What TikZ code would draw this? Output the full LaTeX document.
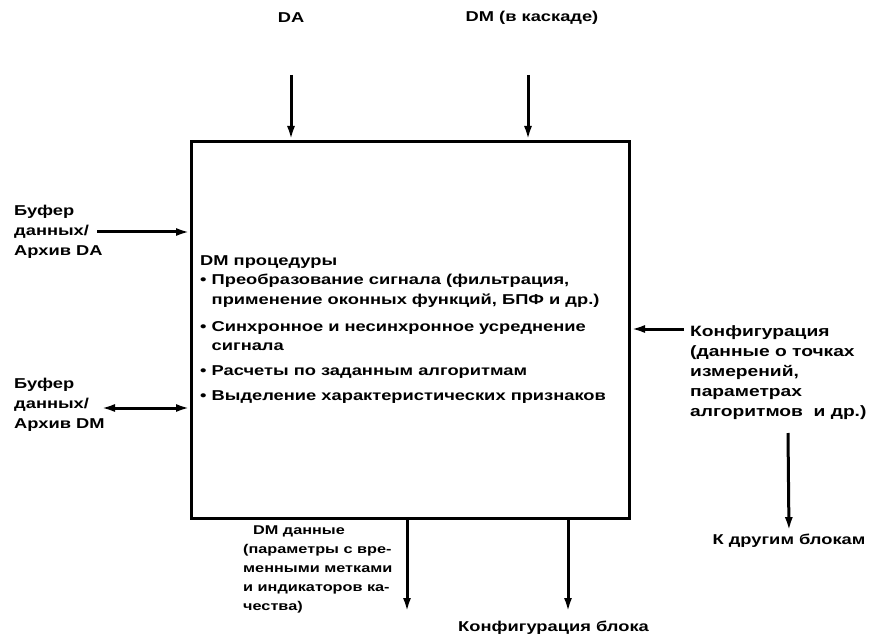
\documentclass[tikz,border=0pt]{standalone}
\usepackage{fontspec}
\setmainfont{Liberation Sans}[FakeStretch=1.28]
\usetikzlibrary{arrows.meta}
\begin{document}
\begin{tikzpicture}[x=1pt,y=-1pt,
  lbl/.style={font=\fontsize{14.3}{20.2}\selectfont\bfseries, inner sep=0pt, align=left},
  arr/.style={line width=3pt, -{Latex[length=14pt,width=8pt]}},
  darr/.style={line width=3pt, {Latex[length=14pt,width=8pt]}-{Latex[length=14pt,width=8pt]}}]
\useasboundingbox (0,0) rectangle (869,636);
% main box
\node[draw, line width=3pt, inner sep=0pt, minimum width=438pt, minimum height=377pt, anchor=north west] (box) at (190,140) {};
% text inside
\node[lbl, anchor=north west, font=\fontsize{14.3}{19.5}\selectfont\bfseries] (proc) at (200,255) {DM процедуры\\
• Преобразование сигнала (фильтрация,\\
\phantom{• }применение оконных функций, БПФ и др.)\\[7.5pt]
• Синхронное и несинхронное усреднение\\
\phantom{• }сигнала\\[5.5pt]
• Расчеты по заданным алгоритмам\\[5.5pt]
• Выделение характеристических признаков};
% top inputs
\node[lbl] (da) at (291,18) {DA};
\coordinate (daS) at (291,75);
\draw[arr] (daS) -- (daS |- box.north);
\node[lbl] (dm) at (532,18) {DM (в каскаде)};
\coordinate (dmS) at (528,75);
\draw[arr] (dmS) -- (dmS |- box.north);
% left inputs
\node[lbl, anchor=west] (buf1) at (14,232) {Буфер\\данных/\\Архив DA};
\coordinate (b1) at (97,232);
\draw[arr] (b1) -- (b1 -| box.west);
\node[lbl, anchor=west] (buf2) at (14,405) {Буфер\\данных/\\Архив DM};
\coordinate (b2) at (101,408);
\draw[darr] (b2) -- (b2 -| box.west);
% right control
\node[lbl, anchor=north west, font=\fontsize{15}{20}\selectfont\bfseries] (conf) at (690,325) {Конфигурация\\(данные о точках\\измерений,\\параметрах\\алгоритмов\ \ и др.)};
\coordinate (c1) at (684,329);
\draw[arr] (c1) -- (c1 -| box.east);
\coordinate (c2) at (788,433);
\node[lbl] (other) at (789,541) {К другим блокам};
\draw[arr, shorten >=3pt] (c2) -- (other.north);
% outputs
\node[lbl, anchor=north west, font=\fontsize{12.7}{19}\selectfont\bfseries] (dmout) at (243,526) {\hspace*{10pt}DM данные\\(параметры с вре-\\менными метками\\и индикаторов ка-\\чества)};
\coordinate (o1) at (407,612);
\draw[arr] (box.south -| o1) -- (o1);
\coordinate (o2) at (568,612);
\draw[arr] (box.south -| o2) -- (o2);
\node[lbl, anchor=north west] (cfgb) at (458,621) {Конфигурация блока};
\end{tikzpicture}
\end{document}
